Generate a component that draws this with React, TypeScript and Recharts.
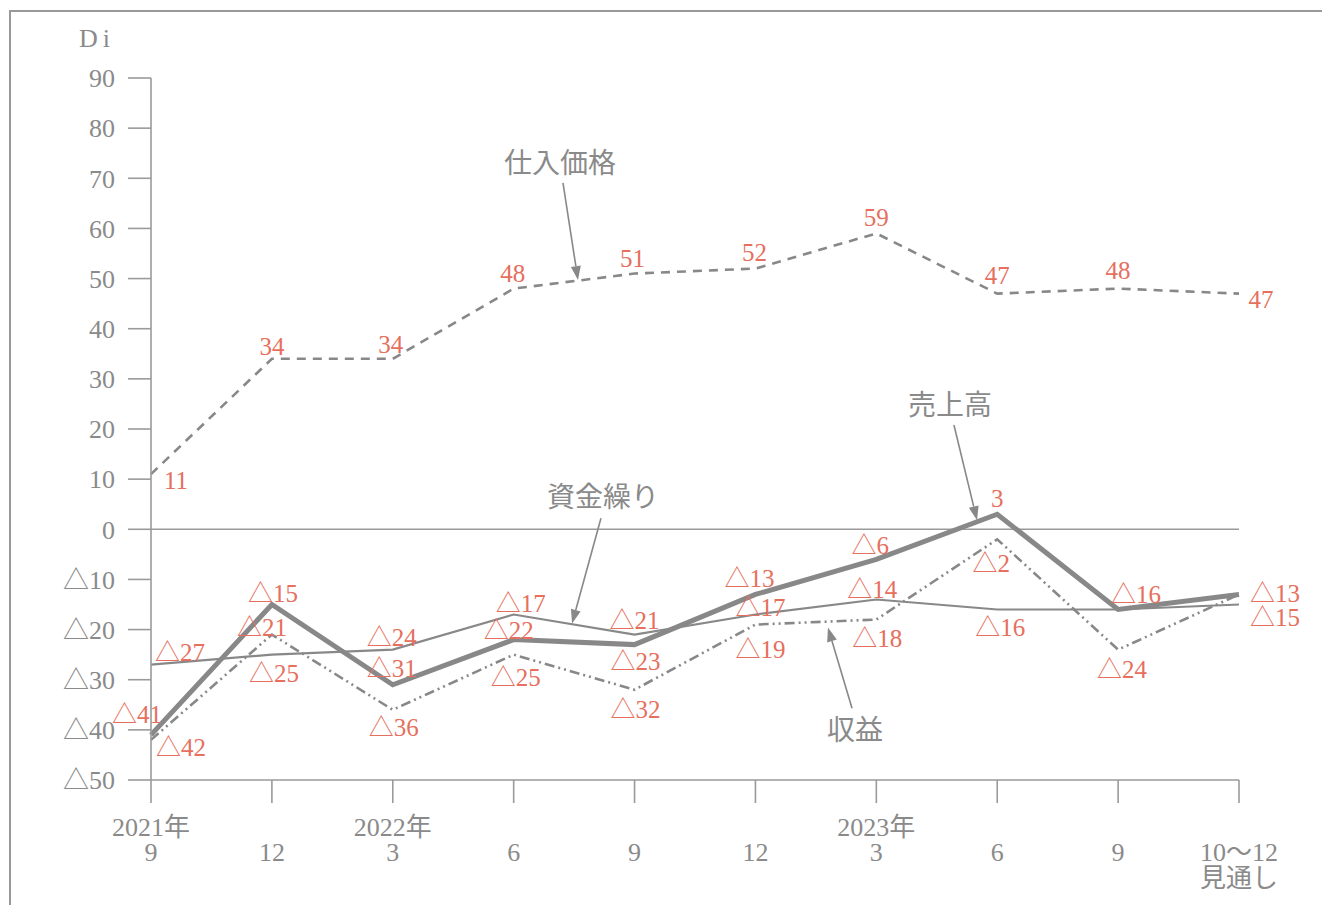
import React from "react";
import {
  LineChart,
  Line,
  XAxis,
  YAxis,
  ReferenceLine,
  ReferenceDot,
  LabelList,
} from "recharts";

// x axis labels (three rows)
const yearLabels = ["2021年", "", "2022年", "", "", "", "2023年", "", "", ""];
const monthLabels = ["9", "12", "3", "6", "9", "12", "3", "6", "9", "10〜12"];
const noteLabels = ["", "", "", "", "", "", "", "", "", "見通し"];

// DI values
const purchasePrice = [11, 34, 34, 48, 51, 52, 59, 47, 48, 47];
const sales = [-41, -15, -31, -22, -23, -13, -6, 3, -16, -13];
const cashFlow = [-27, -25, -24, -17, -21, -17, -14, -16, -16, -15];
const profit = [-42, -21, -36, -25, -32, -19, -18, -2, -24, -13];

const yTicks = [-50, -40, -30, -20, -10, 0, 10, 20, 30, 40, 50, 60, 70, 80, 90];

// label offsets from each point, px (null = no label)
const purchaseOffsets = [[25, 6], [0, -13], [-2, -15], [-1, -16], [-2, -16], [-1, -17], [0, -16], [0, -19], [0, -19], [22, 5]];
const salesOffsets = [[-14, -21], [1, -12], [-1, -17], [-5, -10], [1, 16], [-6, -16], [-6, -14], [0, -16], [18, -16], [36, -1]];
const cashOffsets = [[29, -13], [2, 18], [-1, -13], [7, -12], [0, -15], [5, -8], [-4, -10], [3, 17], null, [36, 12]];
const profitOffsets = [[30, 7], [-10, -8], [1, 17], [2, 22], [1, 19], [5, 24], [1, 18], [-6, 24], [4, 19], null];

// callouts: series name text and arrow (in chart coords)
const callouts = [
  { text: "仕入価格", at: [3.383, 73.1], from: [3.408, 69.1], to: [3.532, 49.7] },
  { text: "売上高", at: [6.61, 24.8], from: [6.642, 20.8], to: [6.833, 1.8] },
  { text: "資金繰り", at: [3.74, 6.4], from: [3.722, 2.2], to: [3.483, -18.8] },
  { text: "収益", at: [5.824, -40.1], from: [5.799, -35.7], to: [5.6, -19.6] },
];

const data = monthLabels.map((_, i) => ({
  x: i,
  purchase: purchasePrice[i],
  sales: sales[i],
  cash: cashFlow[i],
  profit: profit[i],
}));

const FONT = '"Liberation Serif", "Noto Sans CJK JP", serif';
const GRAY = "#888888";
const AXIS = "#9a9a9a";
const TEXT = "#8a8a8a";
const RED = "#e66f5e";

const fmt = (v: number) => (v < 0 ? "△" + -v : String(v));

const makeLabel = (offsets: (number[] | null)[]) => (props: any) => {
  const { x, y, value, index } = props;
  const off = offsets[index];
  if (!off) return null;
  return (
    <text
      x={x + off[0]}
      y={y + off[1] + 9}
      textAnchor="middle"
      fill={RED}
      fontSize={25}
      fontFamily={FONT}
    >
      {fmt(value)}
    </text>
  );
};

const XTick = (props: any) => {
  const { x, y, payload } = props;
  const i = payload.value;
  const common = { x, textAnchor: "middle" as const, fill: TEXT, fontSize: 26, fontFamily: FONT };
  return (
    <g>
      {yearLabels[i] && <text {...common} y={y + 33}>{yearLabels[i]}</text>}
      <text {...common} y={y + 58}>{monthLabels[i]}</text>
      {noteLabels[i] && <text {...common} y={y + 84}>{noteLabels[i]}</text>}
    </g>
  );
};

const Arrow = (props: any) => {
  const { x1, y1, x2, y2 } = props;
  const a = Math.atan2(y2 - y1, x2 - x1);
  const len = 14;
  const w = 5;
  const bx = x2 - len * Math.cos(a);
  const by = y2 - len * Math.sin(a);
  const p1 = `${bx + w * Math.sin(a)},${by - w * Math.cos(a)}`;
  const p2 = `${bx - w * Math.sin(a)},${by + w * Math.cos(a)}`;
  return (
    <g>
      <line x1={x1} y1={y1} x2={bx} y2={by} stroke={GRAY} strokeWidth={1.6} />
      <polygon points={`${x2},${y2} ${p1} ${p2}`} fill={GRAY} />
    </g>
  );
};

export default function App() {
  return (
    <div
      style={{
        position: "fixed",
        left: 0,
        top: 0,
        width: 1322,
        height: 905,
        overflow: "hidden",
        background: "#fff",
      }}
    >
      <div
        style={{
          position: "absolute",
          left: 9,
          top: 10,
          width: 1400,
          height: 1000,
          border: "2px solid #999",
        }}
      />
      <div
        style={{
          position: "absolute",
          left: 79,
          top: 24,
          fontFamily: FONT,
          fontSize: 26,
          color: TEXT,
          letterSpacing: 5,
        }}
      >
        Di
      </div>
      <div style={{ position: "absolute", left: 0, top: 0 }}>
        <LineChart
          width={1322}
          height={905}
          data={data}
          margin={{ top: 78, right: 83, bottom: 0, left: 11 }}
        >
          <XAxis
            dataKey="x"
            type="number"
            domain={[0, 9]}
            ticks={[0, 1, 2, 3, 4, 5, 6, 7, 8, 9]}
            interval={0}
            height={125}
            tickSize={23}
            tickMargin={0}
            axisLine={{ stroke: AXIS, strokeWidth: 1.6 }}
            tickLine={{ stroke: AXIS, strokeWidth: 1.6 }}
            tick={<XTick />}
          />
          <YAxis
            domain={[-50, 90]}
            ticks={yTicks}
            interval={0}
            width={140}
            tickSize={23}
            tickMargin={13}
            tickFormatter={fmt}
            axisLine={{ stroke: AXIS, strokeWidth: 1.6 }}
            tickLine={{ stroke: AXIS, strokeWidth: 1.6 }}
            tick={{ fill: TEXT, fontSize: 26, fontFamily: FONT }}
          />
          <ReferenceLine y={0} stroke={AXIS} strokeWidth={1.6} />
          <Line
            dataKey="cash"
            stroke={GRAY}
            strokeWidth={2.2}
            dot={false}
            isAnimationActive={false}
          >
            <LabelList dataKey="cash" content={makeLabel(cashOffsets)} />
          </Line>
          <Line
            dataKey="profit"
            stroke={GRAY}
            strokeWidth={2.6}
            strokeDasharray="10 4 2 4 2 4"
            dot={false}
            isAnimationActive={false}
          >
            <LabelList dataKey="profit" content={makeLabel(profitOffsets)} />
          </Line>
          <Line
            dataKey="purchase"
            stroke={GRAY}
            strokeWidth={2.6}
            strokeDasharray="9 7"
            dot={false}
            isAnimationActive={false}
          >
            <LabelList dataKey="purchase" content={makeLabel(purchaseOffsets)} />
          </Line>
          <Line
            dataKey="sales"
            stroke={GRAY}
            strokeWidth={5}
            dot={false}
            isAnimationActive={false}
          >
            <LabelList dataKey="sales" content={makeLabel(salesOffsets)} />
          </Line>
          {callouts.map((c) => (
            <ReferenceLine
              key={"a" + c.text}
              segment={[
                { x: c.from[0], y: c.from[1] },
                { x: c.to[0], y: c.to[1] },
              ]}
              shape={Arrow}
            />
          ))}
          {callouts.map((c) => (
            <ReferenceDot
              key={"t" + c.text}
              x={c.at[0]}
              y={c.at[1]}
              r={0}
              shape={(p: any) => (
                <text
                  x={p.cx}
                  y={p.cy + 10}
                  textAnchor="middle"
                  fill={TEXT}
                  fontSize={28}
                  fontFamily={FONT}
                >
                  {c.text}
                </text>
              )}
            />
          ))}
        </LineChart>
      </div>
    </div>
  );
}
